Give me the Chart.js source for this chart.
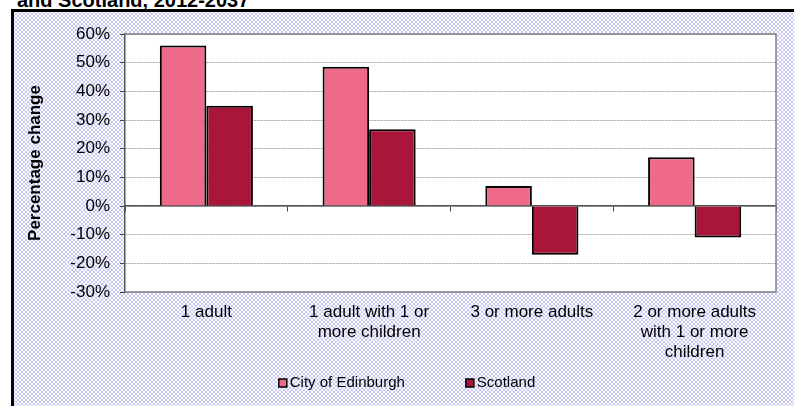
<!DOCTYPE html>
<html>
<head>
<meta charset="utf-8">
<script src="https://cdn.jsdelivr.net/npm/chart.js@4"></script>
<style>
  html, body { margin: 0; padding: 0; width: 794px; height: 406px; overflow: hidden; background: #fff; }
  #frame {
    position: absolute; left: 11px; top: 9px; width: 780px; height: 394px;
    border-left: 3px solid #000; border-top: 3px solid #000;
    background-color: #fff;
    background-image:
      radial-gradient(circle, #c8c8f4 0.9px, transparent 1.4px),
      radial-gradient(circle, #c8c8f4 0.9px, transparent 1.4px);
    background-size: 4px 4px, 4px 4px;
    background-position: 0 0, 2px 2px;
  }
  #titulo {
    position: absolute; left: 17px; top: -10px; margin: 0;
    font: bold 20px "Liberation Sans", Arial, sans-serif; line-height: 20px; color: #000;
  }
  #grafico { position: absolute; left: 0; top: 0; }
</style>
</head>
<body>
<div id="frame"></div>
<p id="titulo">and Scotland, 2012-2037</p>
<canvas id="grafico" width="794" height="406"></canvas>
<script>
// Datos del gráfico (cambio porcentual de hogares por tipo)
const categorias = [
  "1 adult",
  ["1 adult with 1 or", "more children"],
  "3 or more adults",
  ["2 or more adults", "with 1 or more", "children"],
];
const edinburgh = [56, 48.6, 7, 17];
const scotland = [35, 26.8, -17, -11];
const ticksY = [-30, -20, -10, 0, 10, 20, 30, 40, 50, 60];

const fuente = "'Liberation Sans', Arial, sans-serif";

// Fondo blanco y borde gris del área de trazado
const areaPlugin = {
  id: "areaPlugin",
  beforeDraw(chart) {
    const { ctx, chartArea: a } = chart;
    ctx.save();
    ctx.fillStyle = "#fff";
    ctx.fillRect(a.left, a.top, a.right - a.left, a.bottom - a.top);
    ctx.restore();
  },
  afterDraw(chart) {
    const { ctx, chartArea: a } = chart;
    ctx.save();
    ctx.strokeStyle = "#808080";
    ctx.lineWidth = 1.5;
    ctx.beginPath();
    ctx.moveTo(a.left, a.top);
    ctx.lineTo(a.right, a.top);
    ctx.lineTo(a.right, a.bottom);
    ctx.lineTo(a.left, a.bottom);
    ctx.stroke();
    ctx.restore();
  },
};

// Leyenda propia (estilo Excel, con más espacio entre elementos)
const leyendaPlugin = {
  id: "leyendaPlugin",
  afterDraw(chart) {
    const ctx = chart.ctx;
    const items = chart.data.datasets;
    const box = 8, gapBox = 3, gapItem = 61;
    ctx.save();
    ctx.font = "15px " + fuente;
    ctx.textBaseline = "middle";
    const widths = items.map((d) => box + gapBox + ctx.measureText(d.label).width);
    const total = widths.reduce((s, w) => s + w, 0) + gapItem * (items.length - 1);
    let x = 407 - total / 2;
    const y = 383;
    items.forEach((d, i) => {
      ctx.fillStyle = d.backgroundColor;
      ctx.fillRect(x, y - box / 2, box, box);
      ctx.strokeStyle = "#000";
      ctx.lineWidth = 1.5;
      ctx.strokeRect(x, y - box / 2, box, box);
      ctx.fillStyle = "#000";
      ctx.fillText(d.label, x + box + gapBox, y);
      x += widths[i] + gapItem;
    });
    ctx.restore();
  },
};

const ctx = document.getElementById("grafico").getContext("2d");
new Chart(ctx, {
  type: "bar",
  data: {
    labels: categorias,
    datasets: [
      {
        label: "City of Edinburgh",
        data: edinburgh,
        backgroundColor: "#ee6a88",
        borderColor: "#000",
        borderWidth: 2,
      },
      {
        label: "Scotland",
        data: scotland,
        backgroundColor: "#a8163a",
        borderColor: "#000",
        borderWidth: 2,
      },
    ],
  },
  options: {
    responsive: false,
    animation: false,
    devicePixelRatio: 1,
    layout: { padding: { left: 0, top: 34, right: 18, bottom: 0 } },
    datasets: {
      bar: { barPercentage: 1, categoryPercentage: 0.572 },
    },
    scales: {
      x: {
        offset: true,
        grid: { display: false, drawTicks: false },
        border: { display: false },
        ticks: {
          color: "#000",
          font: { family: fuente, size: 17, lineHeight: 1.18 },
          padding: 10,
          maxRotation: 0,
          autoSkip: false,
        },
        afterFit: (scale) => { scale.height = 114; },
      },
      // Eje horizontal en el cero con marcas entre categorías
      x2: {
        type: "category",
        position: { y: 0 },
        offset: true,
        grid: {
          offset: true,
          drawOnChartArea: false,
          drawTicks: true,
          tickLength: 5,
          tickColor: "#444",
          tickWidth: 1,
        },
        border: { display: true, color: "#555", width: 1.5 },
        ticks: { display: false },
      },
      y: {
        min: -30,
        max: 60,
        afterBuildTicks: (scale) => {
          scale.ticks = ticksY.map((v) => ({ value: v }));
        },
        grid: {
          color: "#a6a6a6",
          lineWidth: 1,
          tickLength: 5,
          tickColor: "#444",
        },
        border: { display: true, color: "#555", width: 1.5, dash: [2, 1] },
        ticks: {
          color: "#000",
          font: { family: fuente, size: 17 },
          padding: 10,
          callback: (v) => v + "%",
        },
        title: {
          display: true,
          text: "Percentage change",
          color: "#000",
          font: { family: fuente, size: 17, weight: "bold" },
          padding: { top: 25, bottom: 0 },
        },
        afterFit: (scale) => { scale.width = 125; },
      },
    },
    plugins: {
      legend: { display: false },
      tooltip: { enabled: false },
    },
  },
  plugins: [areaPlugin, leyendaPlugin],
});
</script>
</body>
</html>
